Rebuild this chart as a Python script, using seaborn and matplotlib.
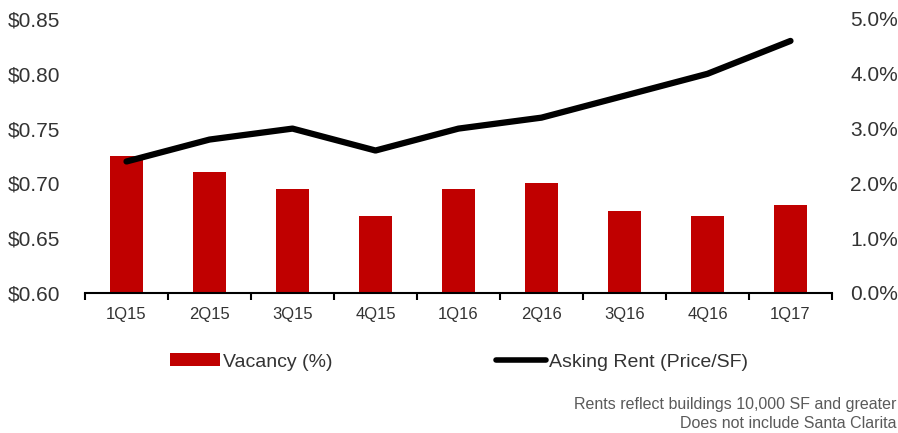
import matplotlib
matplotlib.use("Agg")
import matplotlib.pyplot as plt
import seaborn as sns
import pandas as pd
from matplotlib.patches import Patch
from matplotlib.lines import Line2D
from matplotlib.ticker import FuncFormatter, FixedLocator

quarters = ["1Q15", "2Q15", "3Q15", "4Q15", "1Q16", "2Q16", "3Q16", "4Q16", "1Q17"]
vacancy_pct = [2.5, 2.2, 1.9, 1.4, 1.9, 2.0, 1.5, 1.4, 1.6]
asking_rent = [0.72, 0.74, 0.75, 0.73, 0.75, 0.76, 0.78, 0.80, 0.83]
rent_ticks = [0.60, 0.65, 0.70, 0.75, 0.80, 0.85]
vac_ticks = [0.0, 1.0, 2.0, 3.0, 4.0, 5.0]
footnotes = ["Rents reflect buildings 10,000 SF and greater", "Does not include Santa Clarita"]

df = pd.DataFrame({"quarter": quarters, "vacancy": vacancy_pct, "rent": asking_rent})

sns.set_theme(style="white")
plt.rcParams["font.family"] = ["Liberation Sans", "DejaVu Sans"]
text_color = "#333333"
red = "#C00000"

fig = plt.figure(figsize=(8.98, 4.33), dpi=100)
ax = fig.add_axes([85 / 898, 1 - 293 / 433, (832 - 85) / 898, (293 - 19) / 433])
ax2 = ax.twinx()

sns.barplot(data=df, x="quarter", y="vacancy", order=quarters, color=red,
            width=0.4, ax=ax2, saturation=1, edgecolor="none")
sns.lineplot(data=df, x="quarter", y="rent", color="black", linewidth=4.5,
             sort=False, ax=ax)
ax.lines[-1].set_solid_capstyle("round")

ax.set_zorder(ax2.get_zorder() + 1)
ax.patch.set_visible(False)

ax.set_ylim(0.60, 0.85)
ax2.set_ylim(0.0, 5.0)
ax.set_xlim(-0.5, len(quarters) - 0.5)
ax.set_yticks(rent_ticks)
ax.yaxis.set_major_formatter(FuncFormatter(lambda v, p: f"${v:.2f}"))
ax2.set_yticks(vac_ticks)
ax2.yaxis.set_major_formatter(FuncFormatter(lambda v, p: f"{v:.1f}%"))

for a in (ax, ax2):
    a.set_xlabel("")
    a.set_ylabel("")
    for s in ("top", "left", "right"):
        a.spines[s].set_visible(False)
    a.grid(False)
ax2.spines["bottom"].set_visible(False)
ax.spines["bottom"].set_color("black")
ax.spines["bottom"].set_linewidth(1.5)

ax.tick_params(axis="y", length=0, labelsize=15, labelcolor=text_color, pad=18)
ax2.tick_params(axis="y", length=0, labelsize=15, labelcolor=text_color, pad=13)
ax.set_xticks(range(len(quarters)))
ax.set_xticklabels(quarters)
ax.xaxis.set_minor_locator(FixedLocator([i - 0.5 for i in range(len(quarters) + 1)]))
ax.tick_params(axis="x", which="major", length=0, labelsize=12, labelcolor=text_color, pad=10)
ax.tick_params(axis="x", which="minor", length=5, width=1.5, color="black", bottom=True, direction="out")
ax2.tick_params(axis="x", length=0, labelbottom=False)

handles = [Patch(facecolor=red, edgecolor="none"),
           Line2D([0], [0], color="black", linewidth=4.0, solid_capstyle="round")]
labels = ["Vacancy (%)", "Asking Rent (Price/SF)"]
leg = fig.legend(handles, labels, loc="center left", bbox_to_anchor=(152 / 898, 1 - 362 / 433),
                 ncol=2, frameon=False, handlelength=2.6, handleheight=0.6, handletextpad=0.15,
                 columnspacing=8.4, fontsize=14)
for t in leg.get_texts():
    t.set_color(text_color)

fig.text(896 / 898, 1 - 404 / 433, footnotes[0], ha="right", va="center", fontsize=11.5, color="#5a5a5a")
fig.text(896 / 898, 1 - 424 / 433, footnotes[1], ha="right", va="center", fontsize=11.5, color="#5a5a5a")

fig.savefig("out.png", dpi=100)
